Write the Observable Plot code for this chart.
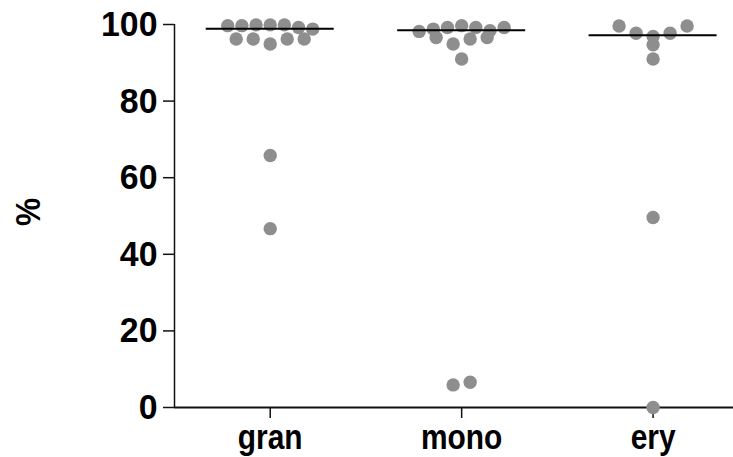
<!DOCTYPE html>
<html><head><meta charset="utf-8">
<script src="https://cdn.jsdelivr.net/npm/d3@7"></script>
<script src="https://cdn.jsdelivr.net/npm/@observablehq/plot@0.6"></script>
<style>
html,body{margin:0;padding:0;background:#fff}
</style></head><body><div id="chart"></div>
<script>
// ---- data ----
const categories = ["gran", "mono", "ery"];
const gran = [99.7, 99.7, 99.9, 99.9, 99.9, 99.2, 98.8, 96.2, 96.2, 94.9, 96.2, 96.2, 65.8, 46.7];
const mono = [98.2, 98.8, 99.2, 99.7, 99.2, 98.4, 99.2, 96.6, 94.9, 96.2, 96.6, 91.0, 5.9, 6.6];
const ery  = [99.6, 97.7, 96.9, 97.7, 99.6, 94.7, 91.0, 49.6, 0];
const medians = [98.9, 98.5, 97.2];
const yTicks = [0, 20, 40, 60, 80, 100];
const yLabel = "%";

// ---- layout ----
const W = 733, H = 457, mL = 174, mR = 0, mT = 24, mB = 50;
const xDomain = [-0.5, 2.42];
const pxPerUnit = (W - mL - mR) / (xDomain[1] - xDomain[0]);
const series = [gran, mono, ery];

// scatter layout: points of similar value are set side by side in rows
function layout(values, ci) {
  const idx = values.map((v, i) => i).sort((a, b) => values[b] - values[a] || a - b);
  const rows = []; let cur = null;
  for (const i of idx) {
    if (!cur || values[i] < cur.top - 3.0) { cur = {top: values[i], items: []}; rows.push(cur); }
    cur.items.push(i);
  }
  const out = [];
  for (const r of rows) {
    r.items.sort((a, b) => a - b);
    const n = r.items.length;
    const sp = n > 1 ? Math.min(17, 85 / (n - 1)) : 0;
    r.items.forEach((i, k) => out.push({
      cat: categories[ci], ci, value: values[i],
      x: ci + (k - (n - 1) / 2) * sp / pxPerUnit
    }));
  }
  return out;
}
const points = series.flatMap((v, ci) => layout(v, ci));
const medRows = categories.map((c, ci) => ({cat: c, ci, m: medians[ci]}));
const halfBand = 64 / pxPerUnit;

const font = "'Liberation Sans', Arial, Helvetica, sans-serif";
const chart = Plot.plot({
  width: W, height: H,
  marginLeft: mL, marginRight: mR, marginTop: mT, marginBottom: mB,
  style: {fontFamily: font, fontWeight: "bold", fontSize: "36px", color: "#000", background: "#fff"},
  x: {type: "linear", domain: xDomain},
  y: {domain: [0, 100]},
  marks: [
    Plot.ruleY([0], {stroke: "#111", strokeWidth: 2}),
    Plot.ruleX([xDomain[0]], {y1: 0, y2: 100, stroke: "#111", strokeWidth: 1.5}),
    Plot.axisY({ticks: yTicks, tickSize: 11, tickPadding: 6, label: null, stroke: "#111", strokeWidth: 1.5,
      fontSize: 36, fontWeight: "bold", fill: "#000"}),
    Plot.axisX({ticks: [0, 1, 2], tickFormat: i => categories[i], tickSize: 11, tickPadding: 5, label: null,
      stroke: "#111", strokeWidth: 1.5, fontSize: 36, fontWeight: "bold", fill: "#000"}),
    Plot.dot(points, {x: "x", y: "value", r: 6.7, fill: "#8e8e8e", stroke: "none"}),
    Plot.ruleY(medRows, {x1: d => d.ci - halfBand, x2: d => d.ci + halfBand, y: "m", stroke: "#000", strokeWidth: 2}),
    Plot.text([yLabel], {frameAnchor: "left", dx: -146, dy: 10, rotate: -90, text: d => d,
      fontSize: 36, fontWeight: "bold", fill: "#000"})
  ]
});

// horizontal condensing of the bold labels, like the original typeface
function squeeze(sel, s) {
  chart.querySelectorAll(sel).forEach(t => {
    let tr = t.getAttribute("transform");
    if (!tr) {
      const x = t.getAttribute("x") || 0, y = t.getAttribute("y") || 0;
      t.removeAttribute("x"); t.removeAttribute("y");
      tr = `translate(${x},${y})`;
    }
    t.setAttribute("transform", tr + ` scale(${s},1)`);
  });
}
squeeze('g[aria-label="y-axis tick label"] text', 0.94);
squeeze('g[aria-label="x-axis tick label"] text', 0.83);
squeeze('g[aria-label="text"] text', 0.88);

document.getElementById("chart").appendChild(chart);
</script>
</body></html>
